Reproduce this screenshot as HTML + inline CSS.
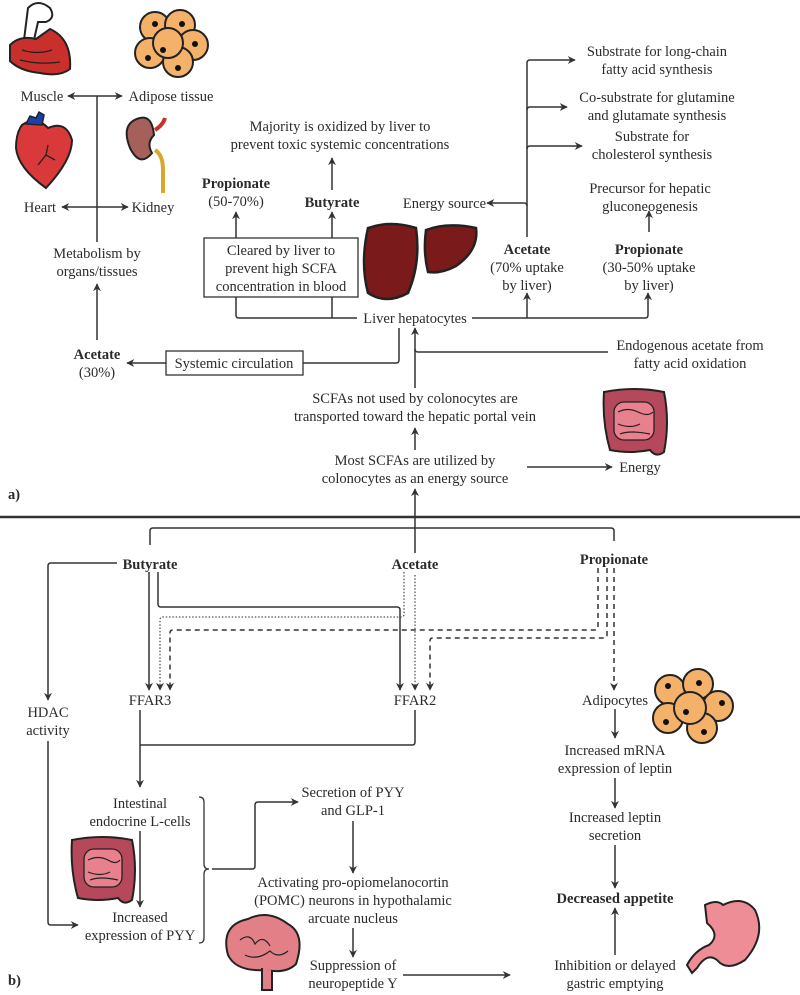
<!DOCTYPE html>
<html><head><meta charset="utf-8"><style>
html,body{margin:0;padding:0;background:#fff}
svg{display:block}
text{font-family:"Liberation Serif",serif;font-size:14.5px;fill:#2b2b2b;text-anchor:middle}
.b{font-weight:bold}
.l{stroke:#333;stroke-width:1.5;fill:none}
.dot{stroke:#555;stroke-width:1.3;fill:none;stroke-dasharray:1.5 1.8}
.dash{stroke:#333;stroke-width:1.5;fill:none;stroke-dasharray:5 4}
</style></head><body>
<svg width="800" height="995" viewBox="0 0 800 995" xmlns="http://www.w3.org/2000/svg">
<defs>
<marker id="a" viewBox="0 0 10 10" refX="9" refY="5" markerWidth="8" markerHeight="8" orient="auto-start-reverse" markerUnits="userSpaceOnUse"><path d="M0,0 L10,5 L0,10 L3,5 z" fill="#333"/></marker>
</defs>

<!-- muscle -->
<g>
<path d="M28,8 q10,-10 22,0 q6,10 -4,14 l-8,0 l-4,18 l-10,0 z" fill="#fff" stroke="#222" stroke-width="2"/>
<path d="M10,45 q10,-10 26,-6 l14,-10 q22,10 20,40 q-10,8 -30,4 q-20,-2 -30,-12 z" fill="#c9302c" stroke="#222" stroke-width="2"/>
<path d="M22,50 q15,5 30,0 M20,60 q20,5 40,2" stroke="#222" stroke-width="1.3" fill="none"/>
</g>
<!-- adipose top -->
<g stroke="#222" stroke-width="2" fill="#f4b16a">
<circle cx="155" cy="27" r="15"/><circle cx="180" cy="25" r="15"/><circle cx="193" cy="45" r="15"/>
<circle cx="150" cy="53" r="15"/><circle cx="178" cy="62" r="15"/><circle cx="168" cy="43" r="15"/>
</g>
<g fill="#111"><circle cx="155" cy="24" r="3"/><circle cx="182" cy="24" r="3"/><circle cx="195" cy="44" r="3"/><circle cx="148" cy="58" r="3"/><circle cx="178" cy="68" r="3"/><circle cx="163" cy="50" r="3"/></g>
<!-- heart -->
<g>
<path d="M22,125 q14,-10 26,3 q18,-8 24,12 q0,20 -26,48 q-28,-20 -30,-40 q0,-15 6,-23 z" fill="#d9393a" stroke="#222" stroke-width="2"/>
<path d="M26,124 l4,-8 l6,2 l3,-6 l5,3 l-2,10 z" fill="#1c3fb0" stroke="#222" stroke-width="1.5"/>
<path d="M38,165 l8,-10 l9,5 M46,155 l2,-10" stroke="#222" stroke-width="1.3" fill="none"/>
</g>
<!-- kidney -->
<g>
<path d="M140,118 q-20,5 -10,30 q10,20 22,5 q-6,-10 2,-18 q-2,-20 -14,-17 z" fill="#a6605c" stroke="#222" stroke-width="2"/>
<path d="M155,130 q8,-5 10,-12" stroke="#c9302c" stroke-width="4" fill="none"/>
<path d="M155,150 q8,5 8,20 l0,23" stroke="#d7a82a" stroke-width="4" fill="none"/>
</g>
<!-- liver -->
<g>
<path d="M368,228 q22,-8 48,0 q5,35 -8,65 q-22,12 -40,0 q-8,-30 0,-65 z" fill="#7a1a1a" stroke="#222" stroke-width="2.5"/>
<path d="M426,230 q22,-8 50,-2 q3,22 -20,38 q-15,8 -28,6 q-5,-20 -2,-42 z" fill="#7a1a1a" stroke="#222" stroke-width="2.5"/>
</g>
<!-- intestine top -->
<g>
<path d="M604,392 q30,-6 60,0 q6,30 0,60 q-8,6 -14,-2 q-20,4 -40,0 q-8,-28 -6,-58 z" fill="#b5485a" stroke="#222" stroke-width="2"/>
<rect x="614" y="402" width="40" height="38" rx="10" fill="#e8808e" stroke="#222" stroke-width="1.3"/>
<path d="M618,412 q10,-5 20,0 q10,5 15,0 M618,424 q12,5 22,0 M620,434 q10,-4 30,0" stroke="#222" stroke-width="1.2" fill="none"/>
</g>
<!-- adipocytes b -->
<g stroke="#222" stroke-width="2" fill="#f4b16a">
<circle cx="670" cy="690" r="15"/><circle cx="698" cy="684" r="15"/><circle cx="718" cy="706" r="15"/>
<circle cx="668" cy="718" r="15"/><circle cx="702" cy="728" r="15"/><circle cx="690" cy="708" r="16"/>
</g>
<g fill="#111"><circle cx="668" cy="686" r="3"/><circle cx="699" cy="683" r="3"/><circle cx="722" cy="703" r="3"/><circle cx="666" cy="722" r="3"/><circle cx="704" cy="732" r="3"/><circle cx="686" cy="712" r="3"/></g>
<!-- intestine b -->
<g>
<path d="M72,840 q30,-6 60,0 q6,30 0,60 q-8,6 -14,-2 q-20,4 -40,0 q-8,-28 -6,-58 z" fill="#b5485a" stroke="#222" stroke-width="2"/>
<rect x="84" y="849" width="38" height="38" rx="10" fill="#e8808e" stroke="#222" stroke-width="1.3"/>
<path d="M88,860 q10,-5 20,0 q8,5 12,0 M88,872 q12,5 22,0 M90,880 q10,-4 28,0" stroke="#222" stroke-width="1.2" fill="none"/>
</g>
<!-- brain -->
<g>
<path d="M228,955 q-8,-30 20,-36 q20,-10 40,5 q18,10 8,40 q-10,10 -30,6 q-30,2 -38,-15 z" fill="#e27f87" stroke="#222" stroke-width="2"/>
<path d="M262,968 l0,22 l10,0 l0,-20" fill="#e27f87" stroke="#222" stroke-width="2"/>
<path d="M240,940 q10,-8 15,4 q8,-10 15,2 M245,955 q12,6 25,-4 q8,8 18,0" stroke="#222" stroke-width="1.2" fill="none"/>
</g>
<!-- stomach -->
<g>
<path d="M705,905 q12,-6 18,0 q20,-10 32,5 q12,25 -10,50 q-18,12 -28,0 q-10,-8 -20,8 l-5,5 l-5,-8 q8,-15 22,-20 q12,-10 -2,-22 z" fill="#ef8d96" stroke="#222" stroke-width="2"/>
</g>

<!-- PART A connectors -->
<path class="l" d="M97,340 V284" marker-end="url(#a)"/>
<text x="97" y="258">Metabolism by</text>
<text x="97" y="276">organs/tissues</text>
<path class="l" d="M97,242 V96"/>
<path class="l" d="M97,96 H68" marker-end="url(#a)"/>
<path class="l" d="M97,96 H122" marker-end="url(#a)"/>
<path class="l" d="M97,207 H62" marker-end="url(#a)"/>
<path class="l" d="M97,207 H128" marker-end="url(#a)"/>
<text x="42" y="101">Muscle</text>
<text x="171" y="101">Adipose tissue</text>
<text x="40" y="212">Heart</text>
<text x="153" y="212">Kidney</text>

<text x="97" y="359" class="b">Acetate</text>
<text x="97" y="377">(30%)</text>
<rect x="166" y="351" width="137" height="24" fill="#fff" stroke="#333" stroke-width="1.3"/>
<text x="234" y="368">Systemic circulation</text>
<path class="l" d="M166,363 H127" marker-end="url(#a)"/>
<path class="l" d="M303,363 H396 q3,0 3,-3 V328"/>

<rect x="204" y="238" width="154" height="59" fill="#fff" stroke="#333" stroke-width="1.3"/>
<text x="281" y="255">Cleared by liver to</text>
<text x="281" y="273">prevent high SCFA</text>
<text x="281" y="291">concentration in blood</text>
<path class="l" d="M236,238 V212" marker-end="url(#a)"/>
<path class="l" d="M332,238 V212" marker-end="url(#a)"/>
<text x="236" y="188" class="b">Propionate</text>
<text x="236" y="206">(50-70%)</text>
<text x="332" y="207" class="b">Butyrate</text>
<path class="l" d="M332,190 V158" marker-end="url(#a)"/>
<text x="340" y="131">Majority is oxidized by liver to</text>
<text x="340" y="149">prevent toxic systemic concentrations</text>

<path class="l" d="M357,318 H239 q-3,0 -3,-3 V297"/>
<path class="l" d="M332,318 V297"/>
<text x="415" y="323">Liver hepatocytes</text>
<path class="l" d="M472,318 H645 q3,0 3,-3 V293" marker-end="url(#a)"/>
<path class="l" d="M527,318 V293" marker-end="url(#a)"/>
<text x="527" y="254" class="b">Acetate</text>
<text x="527" y="272">(70% uptake</text>
<text x="527" y="290">by liver)</text>
<text x="649" y="254" class="b">Propionate</text>
<text x="649" y="272">(30-50% uptake</text>
<text x="649" y="290">by liver)</text>
<path class="l" d="M649,232 V211" marker-end="url(#a)"/>
<text x="650" y="193">Precursor for hepatic</text>
<text x="650" y="211">gluconeogenesis</text>
<path class="l" d="M527,237 V63 q0,-3 3,-3 H575" marker-end="url(#a)"/>
<path class="l" d="M527,110 q0,-3 3,-3 H567" marker-end="url(#a)"/>
<path class="l" d="M527,149 q0,-3 3,-3 H582" marker-end="url(#a)"/>
<path class="l" d="M527,206 q0,-3 -3,-3 H487" marker-end="url(#a)"/>
<text x="657" y="56">Substrate for long-chain</text>
<text x="657" y="74">fatty acid synthesis</text>
<text x="657" y="102">Co-substrate for glutamine</text>
<text x="657" y="120">and glutamate synthesis</text>
<text x="652" y="141">Substrate for</text>
<text x="652" y="159">cholesterol synthesis</text>
<text x="486" y="208" style="text-anchor:end">Energy source</text>

<path class="l" d="M415,388 V328" marker-end="url(#a)"/>
<path class="l" d="M608,352 H418 q-3,0 -3,-3"/>
<text x="690" y="350">Endogenous acetate from</text>
<text x="690" y="368">fatty acid oxidation</text>
<text x="415" y="403">SCFAs not used by colonocytes are</text>
<text x="415" y="421">transported toward the hepatic portal vein</text>
<path class="l" d="M415,450 V428" marker-end="url(#a)"/>
<text x="415" y="465">Most SCFAs are utilized by</text>
<text x="415" y="483">colonocytes as an energy source</text>
<path class="l" d="M527,467 H612" marker-end="url(#a)"/>
<text x="640" y="472">Energy</text>
<text x="8" y="499" class="b" style="text-anchor:start">a)</text>

<line x1="0" y1="517" x2="800" y2="517" stroke="#333" stroke-width="2.5"/>

<!-- PART B -->
<path class="l" d="M415,553 V489" marker-end="url(#a)"/>
<path class="l" d="M150,545 V531 q0,-3 3,-3 H611 q3,0 3,3 V541"/>
<text x="150" y="569" class="b">Butyrate</text>
<text x="415" y="569" class="b">Acetate</text>
<text x="614" y="564" class="b">Propionate</text>

<path class="l" d="M117,563 H51 q-3,0 -3,3 V700" marker-end="url(#a)"/>
<text x="48" y="717">HDAC</text>
<text x="48" y="735">activity</text>
<path class="l" d="M48,741 V922 q0,3 3,3 H78" marker-end="url(#a)"/>

<path class="l" d="M149,572 V690" marker-end="url(#a)"/>
<path class="l" d="M158,572 V604 q0,3 3,3 H397 q3,0 3,3 V690" marker-end="url(#a)"/>
<path class="dot" d="M404,572 V614 q0,3 -3,3 H163 q-3,0 -3,3 V690" marker-end="url(#a)"/>
<path class="dot" d="M415,575 V690" marker-end="url(#a)"/>
<path class="dash" d="M598,568 V627 q0,3 -3,3 H173 q-3,0 -3,3 V690" marker-end="url(#a)"/>
<path class="dash" d="M607,568 V635 q0,3 -3,3 H433 q-3,0 -3,3 V690" marker-end="url(#a)"/>
<path class="dash" d="M614,568 V690" marker-end="url(#a)"/>
<text x="150" y="705">FFAR3</text>
<text x="415" y="705">FFAR2</text>
<text x="615" y="705">Adipocytes</text>

<path class="l" d="M140,710 V787" marker-end="url(#a)"/>
<path class="l" d="M415,710 V742 q0,3 -3,3 H140"/>
<text x="140" y="808">Intestinal</text>
<text x="140" y="826">endocrine L-cells</text>
<path class="l" d="M140,831 V907" marker-end="url(#a)"/>
<text x="140" y="922">Increased</text>
<text x="140" y="940">expression of PYY</text>
<path d="M199,797 q5,0 5,5 V864 q0,5 5,5 q-5,0 -5,5 V938 q0,5 -5,5" stroke="#333" stroke-width="1.3" fill="none"/>
<path class="l" d="M212,869 H252 q3,0 3,-3 V805 q0,-3 3,-3 H298" marker-end="url(#a)"/>
<text x="353" y="797">Secretion of PYY</text>
<text x="353" y="815">and GLP-1</text>
<path class="l" d="M353,821 V873" marker-end="url(#a)"/>
<text x="353" y="887">Activating pro-opiomelanocortin</text>
<text x="353" y="905">(POMC) neurons in hypothalamic</text>
<text x="353" y="923">arcuate nucleus</text>
<path class="l" d="M353,928 V957" marker-end="url(#a)"/>
<text x="353" y="970">Suppression of</text>
<text x="353" y="988">neuropeptide Y</text>
<path class="l" d="M403,975 H510" marker-end="url(#a)"/>
<text x="615" y="970">Inhibition or delayed</text>
<text x="615" y="988">gastric emptying</text>
<path class="l" d="M615,955 V908" marker-end="url(#a)"/>
<text x="615" y="903" class="b">Decreased appetite</text>

<path class="l" d="M615,709 V738" marker-end="url(#a)"/>
<text x="615" y="755">Increased mRNA</text>
<text x="615" y="773">expression of leptin</text>
<path class="l" d="M615,778 V808" marker-end="url(#a)"/>
<text x="615" y="822">Increased leptin</text>
<text x="615" y="840">secretion</text>
<path class="l" d="M615,845 V888" marker-end="url(#a)"/>
<text x="8" y="985" class="b" style="text-anchor:start">b)</text>
</svg>
</body></html>
